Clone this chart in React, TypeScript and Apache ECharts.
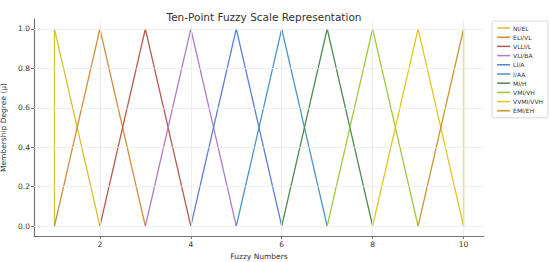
import React, { useEffect, useRef } from "react";
import * as echarts from "echarts";

const labels = ["NI/EL", "ELI/VL", "VLLI/L", "VLI/BA", "LI/A", "I/AA", "MI/H", "VMI/VH", "VVMI/VVH", "EMI/EH"];
const lowerValues = [1, 1, 2, 3, 4, 5, 6, 7, 8, 9];
const middleValues = [1, 2, 3, 4, 5, 6, 7, 8, 9, 10];
const upperValues = [2, 3, 4, 5, 6, 7, 8, 9, 10, 10];
const colors = ["#d6c22c", "#d08c3c", "#b35a4c", "#b07cc6", "#5a7fd6", "#4a94c4", "#4a8a50", "#9cc83a", "#e0c820", "#c8962c"];
const xTicks = [2, 4, 6, 8, 10];
const yTicks = [0, 0.2, 0.4, 0.6, 0.8, 1.0];

export default function App() {
  const ref = useRef<HTMLDivElement>(null);
  useEffect(() => {
    const chart = echarts.init(ref.current!, null, { renderer: "svg" });
    const font = "DejaVu Sans";
    chart.setOption({
      animation: false,
      textStyle: { fontFamily: font },
      title: {
        text: "Ten-Point Fuzzy Scale Representation",
        left: 259, top: 6, textAlign: "center",
        textStyle: { fontSize: 10.5, fontWeight: "normal", color: "#333", fontFamily: font },
      },
      legend: {
        orient: "vertical", right: 2, top: 21,
        itemWidth: 13, itemHeight: 1.5, itemGap: 3.2,
        icon: "rect",
        borderColor: "#d8d8d8", borderWidth: 1, borderRadius: 2, padding: [4, 5, 4, 5],
        textStyle: { fontSize: 6, color: "#333", fontFamily: font, padding: [0, 0, 0, -2] },
        data: labels,
      },
      grid: { left: 34, right: 66, top: 19, bottom: 26, outerBoundsMode: "none", containLabel: false },
      xAxis: {
        type: "value", min: 0.55, max: 10.45,
        name: "Fuzzy Numbers", nameLocation: "middle", nameGap: 14,
        nameTextStyle: { fontSize: 7.5, color: "#333", fontFamily: font },
        axisLine: { onZero: false, lineStyle: { color: "#777", width: 1.2 } },
        axisTick: { customValues: xTicks, length: 3, lineStyle: { color: "#777" } },
        axisLabel: { customValues: xTicks, fontSize: 7.5, color: "#333", margin: 4 },
        splitLine: { show: false },
      },
      yAxis: {
        type: "value", min: -0.05, max: 1.05,
        name: "Membership Degree (μ)", nameLocation: "middle", nameGap: 19,
        nameTextStyle: { fontSize: 7.5, color: "#333", fontFamily: font },
        axisLine: { show: true, onZero: false, lineStyle: { color: "#777", width: 1.2 } },
        axisTick: { show: true, customValues: yTicks, length: 3, lineStyle: { color: "#777" } },
        axisLabel: { customValues: yTicks, fontSize: 7.5, color: "#333", margin: 4, formatter: (v: number) => v.toFixed(1) },
        splitLine: { show: false },
      },
      series: [
        {
          type: "line", name: "_grid", silent: true, data: [], showSymbol: false,
          markLine: {
            silent: true, symbol: "none", label: { show: false },
            lineStyle: { color: "#ebebeb", width: 0.8, type: "solid" },
            data: [
              ...xTicks.map((v) => ({ xAxis: v })),
              ...yTicks.map((v) => ({ yAxis: v })),
            ],
          },
        },
        ...labels.map((name, i) => ({
          type: "line",
          name,
          data: [[lowerValues[i], 0], [middleValues[i], 1], [upperValues[i], 0]],
          showSymbol: false,
          lineStyle: { color: colors[i], width: 1.3 },
          itemStyle: { color: colors[i] },
        })),
      ],
    });
    return () => chart.dispose();
  }, []);
  return <div ref={ref} style={{ width: 550, height: 262, position: "absolute", left: 0, top: 0 }} />;
}
